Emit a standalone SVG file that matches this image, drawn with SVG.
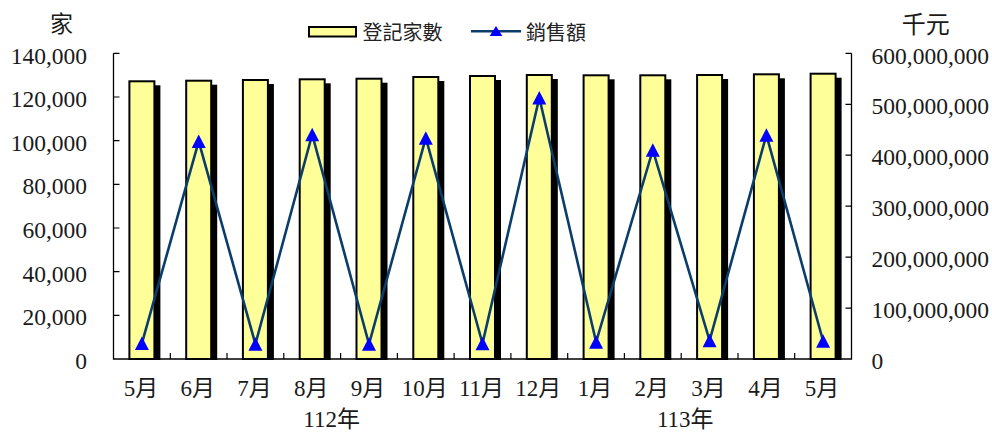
<svg xmlns="http://www.w3.org/2000/svg" width="992" height="432" viewBox="0 0 992 432">
<defs>
<style>
.ax{stroke:#000;stroke-width:1.3;fill:none}
.tk{stroke:#000;stroke-width:1.2}
.sh{fill:#000}
.bar{fill:#FFFF99;stroke:#000;stroke-width:2}
.lbl{font-family:"Liberation Serif","Noto Sans CJK TC",serif;font-size:23.5px;fill:#1a1a1a}
.cat{font-family:"Liberation Serif","Noto Sans CJK TC",serif;font-size:23px;fill:#1a1a1a;text-anchor:middle}
.leg{font-family:"Noto Sans CJK TC","Noto Sans",sans-serif;font-size:20px;fill:#222}
.ln{fill:none;stroke:#0B3D6B;stroke-width:2.6;stroke-linejoin:miter}
</style>
<marker id="tri" viewBox="-8 -8 16 16" markerWidth="16" markerHeight="16" refX="0" refY="0" markerUnits="userSpaceOnUse" orient="0">
<path d="M0,-6.7 L7,6.7 L-7,6.7 Z" fill="#0000FF"/>
</marker>
</defs>
<rect width="992" height="432" fill="#fff"/>

<!-- bars -->
<g id="bars">
<g id="bar-1"><rect class="sh" x="134.4" y="85.3" width="26" height="274.7"/><rect class="bar" x="129.4" y="81.3" width="25" height="277.7"/></g>
<g id="bar-2"><rect class="sh" x="191.2" y="84.7" width="26" height="275.3"/><rect class="bar" x="186.2" y="80.7" width="25" height="278.3"/></g>
<g id="bar-3"><rect class="sh" x="247.9" y="84" width="26" height="276"/><rect class="bar" x="242.9" y="80" width="25" height="279"/></g>
<g id="bar-4"><rect class="sh" x="304.7" y="83.3" width="26" height="276.7"/><rect class="bar" x="299.7" y="79.3" width="25" height="279.7"/></g>
<g id="bar-5"><rect class="sh" x="361.5" y="82.7" width="26" height="277.3"/><rect class="bar" x="356.5" y="78.7" width="25" height="280.3"/></g>
<g id="bar-6"><rect class="sh" x="418.3" y="81" width="26" height="279"/><rect class="bar" x="413.3" y="77" width="25" height="282"/></g>
<g id="bar-7"><rect class="sh" x="475" y="80" width="26" height="280"/><rect class="bar" x="470" y="76" width="25" height="283"/></g>
<g id="bar-8"><rect class="sh" x="531.8" y="79" width="26" height="281"/><rect class="bar" x="526.8" y="75" width="25" height="284"/></g>
<g id="bar-9"><rect class="sh" x="588.6" y="79.3" width="26" height="280.7"/><rect class="bar" x="583.6" y="75.3" width="25" height="283.7"/></g>
<g id="bar-10"><rect class="sh" x="645.3" y="79.3" width="26" height="280.7"/><rect class="bar" x="640.3" y="75.3" width="25" height="283.7"/></g>
<g id="bar-11"><rect class="sh" x="702.1" y="79" width="26" height="281"/><rect class="bar" x="697.1" y="75" width="25" height="284"/></g>
<g id="bar-12"><rect class="sh" x="758.9" y="78.3" width="26" height="281.7"/><rect class="bar" x="753.9" y="74.3" width="25" height="284.7"/></g>
<g id="bar-13"><rect class="sh" x="815.6" y="77.7" width="26" height="282.3"/><rect class="bar" x="810.6" y="73.7" width="25" height="285.3"/></g>
</g>

<!-- axes -->
<g id="axes">
<path class="ax" d="M113.5,53.3 V359 H851.5 V53.3"/>
<path class="tk" d="M113.5,53.3h6M113.5,97h6M113.5,140.7h6M113.5,184.3h6M113.5,228h6M113.5,271.7h6M113.5,315.3h6"/>
<path class="tk" d="M851.5,53.3h-6M851.5,104.3h-6M851.5,155.2h-6M851.5,206.2h-6M851.5,257.1h-6M851.5,308.1h-6"/>
<path class="tk" d="M170.3,359v-6M227,359v-6M283.8,359v-6M340.6,359v-6M397.4,359v-6M454.1,359v-6M510.9,359v-6M567.7,359v-6M624.4,359v-6M681.2,359v-6M738,359v-6M794.7,359v-6"/>
</g>

<!-- connectors: sales line -->
<g id="connectors">
<polyline class="ln" marker-start="url(#tri)" marker-mid="url(#tri)" marker-end="url(#tri)" points="141.9,343.3 198.7,141.3 255.4,344 312.2,134.5 369,344 425.8,138 482.5,343.5 539.3,97.7 596.1,342 652.8,150 709.6,340.5 766.4,135 823.1,341"/>
</g>

<!-- left axis labels -->
<g id="left-labels" class="lbl" text-anchor="end">
<text x="87" y="63.5">140,000</text>
<text x="87" y="107">120,000</text>
<text x="87" y="150.7">100,000</text>
<text x="87" y="194.3">80,000</text>
<text x="87" y="238">60,000</text>
<text x="87" y="281.7">40,000</text>
<text x="87" y="325.3">20,000</text>
<text x="87" y="369">0</text>
</g>
<text class="lbl" x="61.5" y="32" text-anchor="middle" style="font-size:23px">家</text>

<!-- right axis labels -->
<g id="right-labels" class="lbl" text-anchor="start">
<text x="871.5" y="63.5">600,000,000</text>
<text x="871.5" y="114.3">500,000,000</text>
<text x="871.5" y="165.2">400,000,000</text>
<text x="871.5" y="216.2">300,000,000</text>
<text x="871.5" y="267.1">200,000,000</text>
<text x="871.5" y="318.1">100,000,000</text>
<text x="871.5" y="369">0</text>
</g>
<text class="lbl" x="925.8" y="33" text-anchor="middle" style="font-size:24px">千元</text>

<!-- category labels -->
<g id="cat-labels" class="cat">
<text x="141" y="396">5月</text>
<text x="197.8" y="396">6月</text>
<text x="254.5" y="396">7月</text>
<text x="311.3" y="396">8月</text>
<text x="368" y="396">9月</text>
<text x="424.8" y="396">10月</text>
<text x="481.5" y="396">11月</text>
<text x="538.3" y="396">12月</text>
<text x="595.1" y="396">1月</text>
<text x="651.8" y="396">2月</text>
<text x="708.6" y="396">3月</text>
<text x="765.4" y="396">4月</text>
<text x="822.1" y="396">5月</text>
<text x="331.7" y="426.5">112年</text>
<text x="685.3" y="426.5">113年</text>
</g>

<!-- legend -->
<g id="legend">
<g id="legend-bars">
<rect x="309" y="27" width="47" height="9.5" fill="#FFFF99" stroke="#000" stroke-width="2"/>
<text class="leg" x="362.5" y="39.5">登記家數</text>
</g>
<g id="legend-line">
<line x1="471" y1="31.3" x2="521" y2="31.3" stroke="#0B3D6B" stroke-width="2.6"/>
<path d="M496,26 L502.3,36 L489.7,36 Z" fill="#0000FF"/>
<text class="leg" x="526" y="39.5">銷售額</text>
</g>
</g>
</svg>
